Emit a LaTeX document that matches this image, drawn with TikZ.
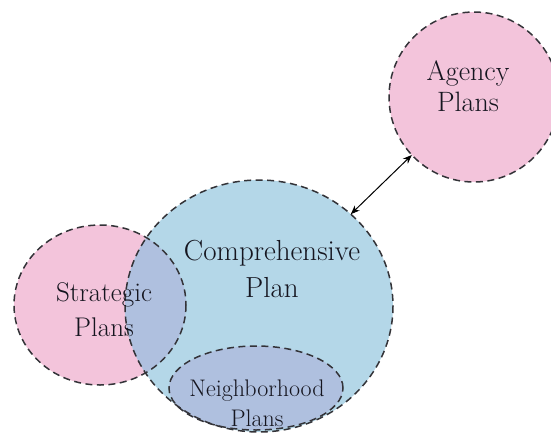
\documentclass[tikz,border=0pt]{standalone}
\usetikzlibrary{shapes.geometric,arrows.meta}
\definecolor{pinkfill}{HTML}{F3C4DB}
\definecolor{bluefill}{HTML}{B4D7E8}
\definecolor{mixfill}{HTML}{AFC0DF}
\definecolor{edgecol}{HTML}{333338}
\definecolor{txtcol}{HTML}{15151F}
\begin{document}
\begin{tikzpicture}[x=1pt,y=-1pt,
  outline/.style={draw=edgecol,line width=1.5pt,dash pattern=on 7pt off 4.5pt},
  shapebox/.style={ellipse,inner sep=0pt,outer sep=0pt},
  lbl/.style={align=center,text=txtcol,inner sep=0pt}]
\useasboundingbox (0,0) rectangle (551,434);
% fills
\node[shapebox,fill=pinkfill,minimum width=172pt,minimum height=160pt] (strat) at (100,305) {};
\node[shapebox,fill=bluefill,minimum width=268pt,minimum height=252pt] (comp) at (259,306) {};
\begin{scope}
  \clip (100,305) ellipse [x radius=86, y radius=80];
  \fill[mixfill] (259,306) ellipse [x radius=134, y radius=126];
\end{scope}
\node[shapebox,fill=mixfill,outline,minimum width=174pt,minimum height=84pt] (neigh) at (256,388) {};
% outlines
\draw[outline] (100,305) ellipse [x radius=86, y radius=80];
\draw[outline] (259,306) ellipse [x radius=134, y radius=126];
\node[shapebox,fill=pinkfill,outline,minimum width=170pt,minimum height=170pt] (agency) at (474,97) {};
% labels
\node[lbl,font=\fontsize{28}{31}\selectfont] (agencyt) at (468,86) {Agency\\Plans};
\node[lbl,font=\fontsize{29}{37}\selectfont] (compt) at (272,269) {Comprehensive\\Plan};
\node[lbl,font=\fontsize{27}{35}\selectfont] (stratt) at (104,310) {Strategic\\Plans};
\node[lbl,font=\fontsize{24}{30}\selectfont] (neight) at (257,403) {Neighborhood\\Plans};
% connector
\draw[{Stealth[length=9pt,width=7pt]}-{Stealth[length=9pt,width=7pt]},line width=1pt,black] (comp.45) -- (agency.223);
\end{tikzpicture}
\end{document}
